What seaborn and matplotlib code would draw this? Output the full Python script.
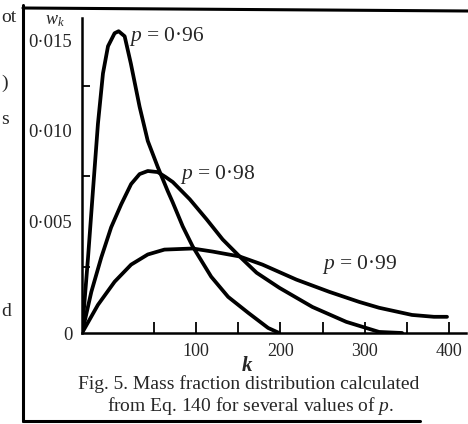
import numpy as np
import pandas as pd
import seaborn as sns
import matplotlib.pyplot as plt
from matplotlib.lines import Line2D

# =====================================================
# DATA
# =====================================================
k_096 = [0, 4.2, 7.6, 11.1, 14.6, 18.1, 22.7, 25.5, 29.7, 34.0, 40.1, 45.8,
         54.7, 66.5, 72.3, 84.3, 96.1, 118.0, 138.1, 161.9, 185.5, 198.6]
w_096 = [0, 0.0030, 0.00667, 0.01039, 0.01317, 0.01467, 0.01539, 0.0155,
         0.01522, 0.01372, 0.01133, 0.00944, 0.0080, 0.00667, 0.00606,
         0.00472, 0.00361, 0.00212, 0.00136, 0.00076, 0.00019, 0]

k_098 = [0, 6.5, 13.4, 20.3, 27.3, 34.2, 40.1, 45.8, 54.7, 64.2, 72.5, 92.6,
         112.6, 131.6, 151.7, 171.8, 198.9, 238.0, 278.1, 317.0, 344.3]
w_098 = [0, 0.00155, 0.0030, 0.00467, 0.00594, 0.00706, 0.00761, 0.00778,
         0.00772, 0.00744, 0.00717, 0.00622, 0.00511, 0.004, 0.00306,
         0.00227, 0.0017, 0.00098, 0.00042, 0.00004, 0]

k_099 = [0, 11.1, 22.7, 34.2, 45.8, 62.6, 96.1, 119.8, 151.7, 178.8, 219.0,
         258.0, 293.5, 317.0, 356.0, 382.0, 397.5]
w_099 = [0, 0.00106, 0.00193, 0.00261, 0.00317, 0.00344, 0.0035, 0.00333,
         0.00306, 0.00261, 0.00201, 0.00155, 0.00117, 0.00095, 0.00068,
         0.00061, 0.00061]

p_labels = ["p = 0·96", "p = 0·98", "p = 0·99"]
y_ticks = [0, 0.005, 0.010, 0.015]
y_tick_labels = ["0", "0·005", "0·010", "0·015"]
x_ticks = [100, 200, 300, 400]
x_tick_labels = ["100", "200", "300", "400"]

df = pd.concat([
    pd.DataFrame({"k": k_096, "w": w_096, "p": p_labels[0]}),
    pd.DataFrame({"k": k_098, "w": w_098, "p": p_labels[1]}),
    pd.DataFrame({"k": k_099, "w": w_099, "p": p_labels[2]}),
])

# the printed axes are not uniform: the first interval on each axis is
# stretched, so both axes get a piecewise-linear scale
X_KNOTS = [0, 50, 450]
X_PIX = [0, 72, 72 + 8 * 42.3]
Y_KNOTS = [0, 0.0025, 0.02]
Y_PIX = [0, 66, 66 + 7 * 45]


def x_fwd(v):
    return np.interp(v, X_KNOTS, X_PIX)


def x_inv(v):
    return np.interp(v, X_PIX, X_KNOTS)


def y_fwd(v):
    return np.interp(v, Y_KNOTS, Y_PIX)


def y_inv(v):
    return np.interp(v, Y_PIX, Y_KNOTS)


# =====================================================
# STYLE
# =====================================================
sns.set_theme(style="white")
plt.rcParams["font.family"] = ["Liberation Serif", "DejaVu Serif"]
plt.rcParams["mathtext.fontset"] = "custom"
plt.rcParams["mathtext.rm"] = "Liberation Serif"
plt.rcParams["mathtext.it"] = "Liberation Serif:italic"

fig = plt.figure(figsize=(4.68, 4.24), dpi=100)
ax = fig.add_axes([82 / 468, 91 / 424, 384 / 468, 315 / 424])

sns.lineplot(data=df, x="k", y="w", hue="p", units="p", estimator=None,
             sort=False, palette=["black"] * 3, linewidth=2.7,
             legend=False, ax=ax)
for line in ax.get_lines():
    line.set_solid_joinstyle("round")

ax.set_xscale("function", functions=(x_fwd, x_inv))
ax.set_yscale("function", functions=(y_fwd, y_inv))
ax.set_xlim(0, 420)
ax.set_ylim(0, 0.01623)

for side in ["top", "right"]:
    ax.spines[side].set_visible(False)
for side in ["left", "bottom"]:
    ax.spines[side].set_linewidth(1.8)
    ax.spines[side].set_color("black")

ax.set_yticks(y_ticks)
ax.set_yticklabels(y_tick_labels, fontsize=13.5)
ax.set_yticks([0.0025, 0.0075, 0.0125], minor=True)
ax.set_yticklabels([], minor=True)
ax.set_xticks(x_ticks)
ax.set_xticklabels(x_tick_labels, fontsize=13)
ax.set_xticks([50, 150, 250, 350], minor=True)
ax.set_xticklabels([], minor=True)
ax.tick_params(axis="y", which="major", direction="inout", length=10,
               width=1.3, color="black", pad=2)
ax.tick_params(axis="y", which="minor", direction="in", length=6,
               width=1.3, color="black", left=True)
ax.tick_params(axis="x", which="both", direction="in", length=8,
               width=1.3, color="black", bottom=True, pad=7)
ax.set_xlabel("")
ax.set_ylabel("")

# curve labels
ax.text(33, 0.0152, r"$p$ = 0·96", fontsize=15.5, va="center")
ax.text(81, 0.0076, r"$p$ = 0·98", fontsize=15.5, va="center")
ax.text(249, 0.0026, r"$p$ = 0·99", fontsize=15.5, va="center")

# axis names
fig.text(55 / 468, 1 - 20 / 424, r"$w_k$", fontsize=13, ha="center", va="center")
fig.text(247 / 468, 1 - 366 / 424, "k", fontsize=15, style="italic",
         weight="bold", ha="center", va="center")

# caption
fig.text(249 / 468, 1 - 384 / 424,
         "Fig. 5. Mass fraction distribution calculated",
         fontsize=14, ha="center", va="center")
fig.text(251 / 468, 1 - 406 / 424,
         r"from Eq. 140 for several values of $p$.",
         fontsize=14, ha="center", va="center")

# frame of the printed figure
frame = dict(color="black", linewidth=2.2, transform=fig.transFigure)
fig.add_artist(Line2D([23 / 468, 23 / 468], [1 - 5 / 424, 1 - 421 / 424], **frame))
fig.add_artist(Line2D([23 / 468, 1], [1 - 8 / 424, 1 - 11 / 424], **frame))
fig.add_artist(Line2D([23 / 468, 420 / 468], [1 - 421 / 424, 1 - 421 / 424], **frame))

# words from the neighbouring column, clipped in the scan
for txt, y in [("ot", 17), (")", 83), ("s", 120), ("d", 312)]:
    fig.text(1 / 468, 1 - y / 424, txt, fontsize=14, va="center", ha="left")

fig.savefig("out.png", dpi=100)
